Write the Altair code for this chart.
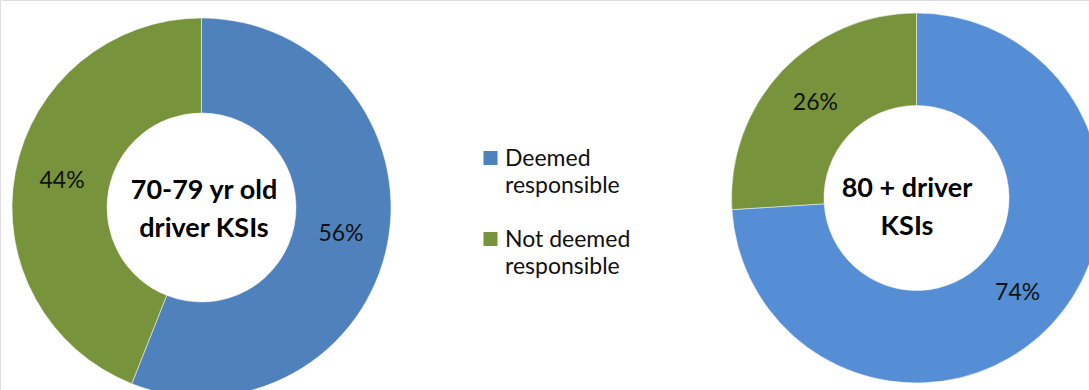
import altair as alt
import pandas as pd

categories = ["Deemed responsible", "Not deemed responsible"]
legend_lines = ["Deemed\nresponsible", "Not deemed\nresponsible"]
share_70_79 = [56, 44]
share_80_plus = [74, 26]
colors_70_79 = ["#4F81BD", "#77933C"]
colors_80_plus = ["#558ED5", "#77933C"]
titles = ["70-79 yr old\ndriver KSIs", "80 + driver\nKSIs"]

rows = []
for g, vals, cols in [("70-79", share_70_79, colors_70_79), ("80+", share_80_plus, colors_80_plus)]:
    for i, (c, v, col) in enumerate(zip(categories, vals, cols)):
        rows.append({"group": g, "category": c, "value": v, "order": i,
                     "label": f"{v}%", "color": col})
df = pd.DataFrame(rows)

FONT = "Lato"

def donut(group, cx, cy, r_out, r_in, title, tx, ty):
    base = alt.Chart(df).transform_filter(alt.datum.group == group).encode(
        theta=alt.Theta("value:Q", stack=True, scale=alt.Scale(domain=[0, 100])),
        order=alt.Order("order:Q"),
        x=alt.value(cx), y=alt.value(cy),
    )
    arc = base.mark_arc(radius=r_out, radius2=r_in, stroke="white", strokeWidth=0.5).encode(
        color=alt.Color("color:N", scale=None)
    )
    txt = base.mark_text(radius=(r_out + r_in) / 2, font=FONT, fontSize=23,
                         color="#111111").encode(text="label:N")
    ttl = alt.Chart(pd.DataFrame({"t": [title]})).mark_text(
        font=FONT, fontSize=27, fontWeight="bold", color="#000000",
        lineBreak="\n", lineHeight=38, baseline="middle", align="center"
    ).encode(text="t:N", x=alt.value(tx), y=alt.value(ty))
    return [arc, txt, ttl]

layers = []
layers += donut("70-79", 201.5, 207.5, 189.5, 94.5, titles[0], 204, 191)
layers += donut("80+", 916.5, 198, 185, 92.5, titles[1], 907, 189)

leg_colors = colors_70_79
for i, (lab, col) in enumerate(zip(legend_lines, leg_colors)):
    ys = 158 + 81 * i
    sq = alt.Chart(pd.DataFrame({"c": [categories[i]]})).mark_square(
        size=196, color=col, opacity=1).encode(x=alt.value(490.5), y=alt.value(ys))
    tx = alt.Chart(pd.DataFrame({"t": [lab]})).mark_text(
        font=FONT, fontSize=23, color="#111111", align="left", baseline="alphabetic",
        lineBreak="\n", lineHeight=27).encode(text="t:N", x=alt.value(505), y=alt.value(ys + 8))
    layers += [sq, tx]

chart = alt.layer(*layers).properties(
    width=1089, height=390,
    autosize=alt.AutoSizeParams(type="none"), padding=0,
).configure_view(stroke=None).configure(background="white")

chart.save("out.html", embed_options={"renderer": "svg", "actions": False})
